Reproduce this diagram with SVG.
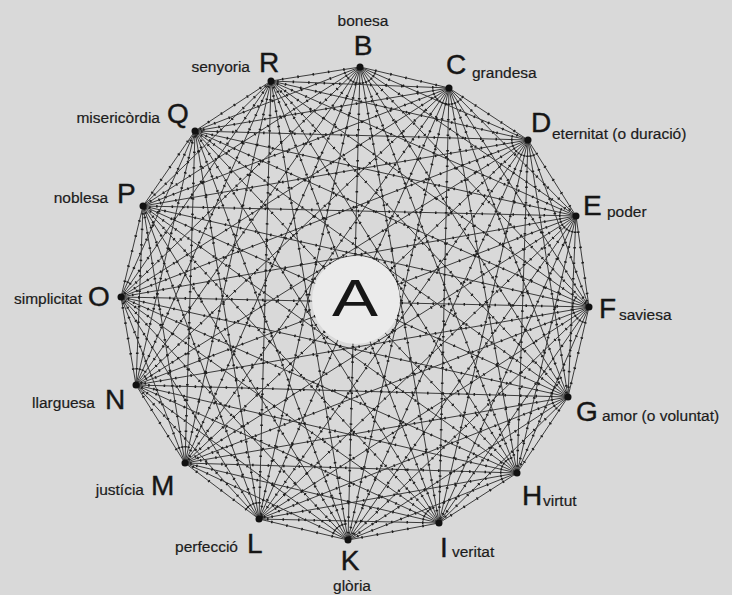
<svg xmlns="http://www.w3.org/2000/svg" xmlns:xlink="http://www.w3.org/1999/xlink" width="732" height="595" viewBox="0 0 732 595">
<style>
.bg{fill:#d9d9d9}
.solid{stroke:#333;stroke-width:0.95;fill:none}
.ticks{stroke:#1e1e1e;stroke-width:2.6;stroke-dasharray:1.5 14;fill:none}
.dot{fill:#111}
.let{font-family:"Liberation Sans",Arial,sans-serif;font-size:28px;fill:#161616;stroke:#161616;stroke-width:0.4}
.lab{font-family:"Liberation Sans",Arial,sans-serif;font-size:15.5px;fill:#1c1c1c;stroke:#1c1c1c;stroke-width:0.2}
.disc{fill:#ebebeb}
.big{font-family:"Liberation Sans",Arial,sans-serif;font-size:52px;fill:#161616;text-anchor:middle}
</style>
<rect class="bg" x="0" y="0" width="732" height="595"/>
<defs>
<g id="chords">
<line x1="360" y1="67" x2="449" y2="88"/><line x1="360" y1="67" x2="528" y2="140"/><line x1="360" y1="67" x2="576" y2="216"/><line x1="360" y1="67" x2="589" y2="307"/><line x1="360" y1="67" x2="568" y2="397"/><line x1="360" y1="67" x2="517" y2="473"/><line x1="360" y1="67" x2="439" y2="523"/><line x1="360" y1="67" x2="348" y2="540"/><line x1="360" y1="67" x2="259" y2="519"/><line x1="360" y1="67" x2="185" y2="463"/><line x1="360" y1="67" x2="136" y2="385"/><line x1="360" y1="67" x2="121" y2="297"/><line x1="360" y1="67" x2="143" y2="206"/><line x1="360" y1="67" x2="195" y2="131"/><line x1="360" y1="67" x2="271" y2="81"/>
<line x1="449" y1="88" x2="528" y2="140"/><line x1="449" y1="88" x2="576" y2="216"/><line x1="449" y1="88" x2="589" y2="307"/><line x1="449" y1="88" x2="568" y2="397"/><line x1="449" y1="88" x2="517" y2="473"/><line x1="449" y1="88" x2="439" y2="523"/><line x1="449" y1="88" x2="348" y2="540"/><line x1="449" y1="88" x2="259" y2="519"/><line x1="449" y1="88" x2="185" y2="463"/><line x1="449" y1="88" x2="136" y2="385"/><line x1="449" y1="88" x2="121" y2="297"/><line x1="449" y1="88" x2="143" y2="206"/><line x1="449" y1="88" x2="195" y2="131"/><line x1="449" y1="88" x2="271" y2="81"/>
<line x1="528" y1="140" x2="576" y2="216"/><line x1="528" y1="140" x2="589" y2="307"/><line x1="528" y1="140" x2="568" y2="397"/><line x1="528" y1="140" x2="517" y2="473"/><line x1="528" y1="140" x2="439" y2="523"/><line x1="528" y1="140" x2="348" y2="540"/><line x1="528" y1="140" x2="259" y2="519"/><line x1="528" y1="140" x2="185" y2="463"/><line x1="528" y1="140" x2="136" y2="385"/><line x1="528" y1="140" x2="121" y2="297"/><line x1="528" y1="140" x2="143" y2="206"/><line x1="528" y1="140" x2="195" y2="131"/><line x1="528" y1="140" x2="271" y2="81"/>
<line x1="576" y1="216" x2="589" y2="307"/><line x1="576" y1="216" x2="568" y2="397"/><line x1="576" y1="216" x2="517" y2="473"/><line x1="576" y1="216" x2="439" y2="523"/><line x1="576" y1="216" x2="348" y2="540"/><line x1="576" y1="216" x2="259" y2="519"/><line x1="576" y1="216" x2="185" y2="463"/><line x1="576" y1="216" x2="136" y2="385"/><line x1="576" y1="216" x2="121" y2="297"/><line x1="576" y1="216" x2="143" y2="206"/><line x1="576" y1="216" x2="195" y2="131"/><line x1="576" y1="216" x2="271" y2="81"/>
<line x1="589" y1="307" x2="568" y2="397"/><line x1="589" y1="307" x2="517" y2="473"/><line x1="589" y1="307" x2="439" y2="523"/><line x1="589" y1="307" x2="348" y2="540"/><line x1="589" y1="307" x2="259" y2="519"/><line x1="589" y1="307" x2="185" y2="463"/><line x1="589" y1="307" x2="136" y2="385"/><line x1="589" y1="307" x2="121" y2="297"/><line x1="589" y1="307" x2="143" y2="206"/><line x1="589" y1="307" x2="195" y2="131"/><line x1="589" y1="307" x2="271" y2="81"/>
<line x1="568" y1="397" x2="517" y2="473"/><line x1="568" y1="397" x2="439" y2="523"/><line x1="568" y1="397" x2="348" y2="540"/><line x1="568" y1="397" x2="259" y2="519"/><line x1="568" y1="397" x2="185" y2="463"/><line x1="568" y1="397" x2="136" y2="385"/><line x1="568" y1="397" x2="121" y2="297"/><line x1="568" y1="397" x2="143" y2="206"/><line x1="568" y1="397" x2="195" y2="131"/><line x1="568" y1="397" x2="271" y2="81"/>
<line x1="517" y1="473" x2="439" y2="523"/><line x1="517" y1="473" x2="348" y2="540"/><line x1="517" y1="473" x2="259" y2="519"/><line x1="517" y1="473" x2="185" y2="463"/><line x1="517" y1="473" x2="136" y2="385"/><line x1="517" y1="473" x2="121" y2="297"/><line x1="517" y1="473" x2="143" y2="206"/><line x1="517" y1="473" x2="195" y2="131"/><line x1="517" y1="473" x2="271" y2="81"/>
<line x1="439" y1="523" x2="348" y2="540"/><line x1="439" y1="523" x2="259" y2="519"/><line x1="439" y1="523" x2="185" y2="463"/><line x1="439" y1="523" x2="136" y2="385"/><line x1="439" y1="523" x2="121" y2="297"/><line x1="439" y1="523" x2="143" y2="206"/><line x1="439" y1="523" x2="195" y2="131"/><line x1="439" y1="523" x2="271" y2="81"/>
<line x1="348" y1="540" x2="259" y2="519"/><line x1="348" y1="540" x2="185" y2="463"/><line x1="348" y1="540" x2="136" y2="385"/><line x1="348" y1="540" x2="121" y2="297"/><line x1="348" y1="540" x2="143" y2="206"/><line x1="348" y1="540" x2="195" y2="131"/><line x1="348" y1="540" x2="271" y2="81"/>
<line x1="259" y1="519" x2="185" y2="463"/><line x1="259" y1="519" x2="136" y2="385"/><line x1="259" y1="519" x2="121" y2="297"/><line x1="259" y1="519" x2="143" y2="206"/><line x1="259" y1="519" x2="195" y2="131"/><line x1="259" y1="519" x2="271" y2="81"/>
<line x1="185" y1="463" x2="136" y2="385"/><line x1="185" y1="463" x2="121" y2="297"/><line x1="185" y1="463" x2="143" y2="206"/><line x1="185" y1="463" x2="195" y2="131"/><line x1="185" y1="463" x2="271" y2="81"/>
<line x1="136" y1="385" x2="121" y2="297"/><line x1="136" y1="385" x2="143" y2="206"/><line x1="136" y1="385" x2="195" y2="131"/><line x1="136" y1="385" x2="271" y2="81"/>
<line x1="121" y1="297" x2="143" y2="206"/><line x1="121" y1="297" x2="195" y2="131"/><line x1="121" y1="297" x2="271" y2="81"/>
<line x1="143" y1="206" x2="195" y2="131"/><line x1="143" y1="206" x2="271" y2="81"/>
<line x1="195" y1="131" x2="271" y2="81"/>
</g>
</defs>
<g id="connectors">
<use xlink:href="#chords" href="#chords" class="solid"/>
<use xlink:href="#chords" href="#chords" class="ticks"/>
</g>
<g id="node-A">
<circle class="disc" cx="356" cy="300" r="44"/>
<text class="big" x="355" y="316" textLength="46" lengthAdjust="spacingAndGlyphs">A</text>
</g>
<g id="node-B"><circle class="dot" cx="360" cy="67" r="3.5"/><text class="let" x="363" y="55" text-anchor="middle">B</text><text class="lab" x="363" y="26" text-anchor="middle">bonesa</text></g>
<g id="node-C"><circle class="dot" cx="449" cy="88" r="3.5"/><text class="let" x="446" y="74">C</text><text class="lab" x="472" y="78">grandesa</text></g>
<g id="node-D"><circle class="dot" cx="528" cy="140" r="3.5"/><text class="let" x="531" y="132">D</text><text class="lab" x="552" y="139">eternitat (o duració)</text></g>
<g id="node-E"><circle class="dot" cx="576" cy="216" r="3.5"/><text class="let" x="583" y="215">E</text><text class="lab" x="607" y="217">poder</text></g>
<g id="node-F"><circle class="dot" cx="589" cy="307" r="3.5"/><text class="let" x="599" y="318">F</text><text class="lab" x="619" y="320">saviesa</text></g>
<g id="node-G"><circle class="dot" cx="568" cy="397" r="3.5"/><text class="let" x="576" y="421">G</text><text class="lab" x="602" y="421">amor (o voluntat)</text></g>
<g id="node-H"><circle class="dot" cx="517" cy="473" r="3.5"/><text class="let" x="522" y="505">H</text><text class="lab" x="543" y="506">virtut</text></g>
<g id="node-I"><circle class="dot" cx="439" cy="523" r="3.5"/><text class="let" x="440" y="557">I</text><text class="lab" x="452" y="557">veritat</text></g>
<g id="node-K"><circle class="dot" cx="348" cy="540" r="3.5"/><text class="let" x="350" y="570" text-anchor="middle">K</text><text class="lab" x="352" y="591" text-anchor="middle">glòria</text></g>
<g id="node-L"><circle class="dot" cx="259" cy="519" r="3.5"/><text class="let" x="247" y="553">L</text><text class="lab" x="238" y="552" text-anchor="end">perfecció</text></g>
<g id="node-M"><circle class="dot" cx="185" cy="463" r="3.5"/><text class="let" x="151" y="495">M</text><text class="lab" x="144" y="495" text-anchor="end">justícia</text></g>
<g id="node-N"><circle class="dot" cx="136" cy="385" r="3.5"/><text class="let" x="105" y="409">N</text><text class="lab" x="95" y="408" text-anchor="end">llarguesa</text></g>
<g id="node-O"><circle class="dot" cx="121" cy="297" r="3.5"/><text class="let" x="88" y="306">O</text><text class="lab" x="82" y="304" text-anchor="end">simplicitat</text></g>
<g id="node-P"><circle class="dot" cx="143" cy="206" r="3.5"/><text class="let" x="117" y="203">P</text><text class="lab" x="108" y="203" text-anchor="end">noblesa</text></g>
<g id="node-Q"><circle class="dot" cx="195" cy="131" r="3.5"/><text class="let" x="167" y="123">Q</text><text class="lab" x="160" y="123" text-anchor="end">misericòrdia</text></g>
<g id="node-R"><circle class="dot" cx="271" cy="81" r="3.5"/><text class="let" x="259" y="72">R</text><text class="lab" x="250" y="72" text-anchor="end">senyoria</text></g>
</svg>
